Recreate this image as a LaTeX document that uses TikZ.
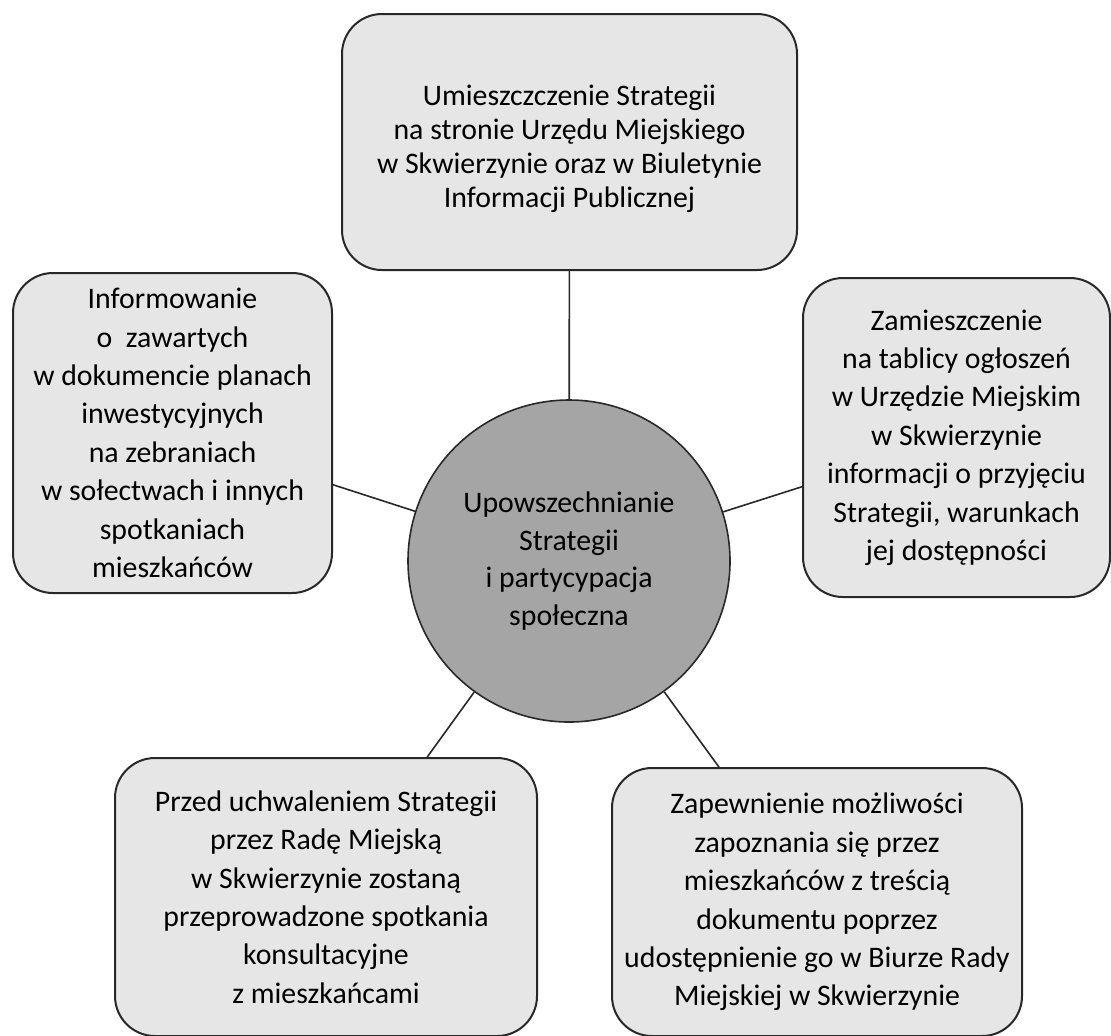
\documentclass[tikz,border=0pt]{standalone}
\usepackage{fontspec}
\setmainfont{Carlito}
\usepackage{xcolor}
\usepackage{tikz}
\usetikzlibrary{positioning}
\definecolor{boxgray}{RGB}{230, 230, 230}
\definecolor{hubgray}{RGB}{165, 165, 165}
\definecolor{edgegray}{RGB}{40, 40, 40}

\begin{document}
\begin{tikzpicture}[
    x=0.5pt, y=-0.5pt,
    box/.style={rectangle, rounded corners=20pt, draw=edgegray, line width=1pt, fill=boxgray, inner sep=0pt, align=center, font=\fontsize{14.9pt}{19.2pt}\selectfont},
    hub/.style={circle, draw=edgegray, line width=0.8pt, fill=hubgray, inner sep=0pt, minimum size=161pt, align=center, font=\fontsize{14.9pt}{18.8pt}\selectfont},
    link/.style={line width=0.8pt, edgegray}
]
\useasboundingbox (0,0) rectangle (1111,1035);

% Centre
\node[hub] (spread) at (569,561) {Upowszechnianie\\Strategii\\i partycypacja\\społeczna};

% Surrounding boxes
\node[box, minimum width=227.5pt, minimum height=128pt, font=\fontsize{14.9pt}{16.9pt}\selectfont] (website) at (569.5,142) {\rule{0pt}{17pt}Umieszczczenie Strategii\\na stronie Urzędu Miejskiego\\w Skwierzynie oraz w Biuletynie\\Informacji Publicznej};
\node[box, minimum width=159.5pt, minimum height=160pt] (meetings) at (172.5,433) {Informowanie\\o~ zawartych\\w dokumencie planach\\inwestycyjnych\\na zebraniach\\w sołectwach i innych\\spotkaniach\\mieszkańców};
\node[box, minimum width=153.5pt, minimum height=159.5pt] (board) at (956.5,437.5) {Zamieszczenie\\na tablicy ogłoszeń\\w Urzędzie Miejskim\\w Skwierzynie\\informacji o przyjęciu\\Strategii, warunkach\\jej dostępności};
\node[box, minimum width=211pt, minimum height=139pt] (consult) at (326,897) {Przed uchwaleniem Strategii\\przez Radę Miejską\\w Skwierzynie zostaną\\przeprowadzone spotkania\\konsultacyjne\\z mieszkańcami};
\node[box, minimum width=205pt, minimum height=134pt] (office) at (817,902) {Zapewnienie możliwości\\zapoznania się przez\\mieszkańców z treścią\\dokumentu poprzez\\udostępnienie go w Biurze Rady\\Miejskiej w Skwierzynie};

% Connectors
\draw[link] (spread) -- (website);
\draw[link] (spread) -- (meetings);
\draw[link] (spread) -- (board);
\draw[link] (spread) -- (consult);
\draw[link] (spread) -- (office);
\end{tikzpicture}
\end{document}
